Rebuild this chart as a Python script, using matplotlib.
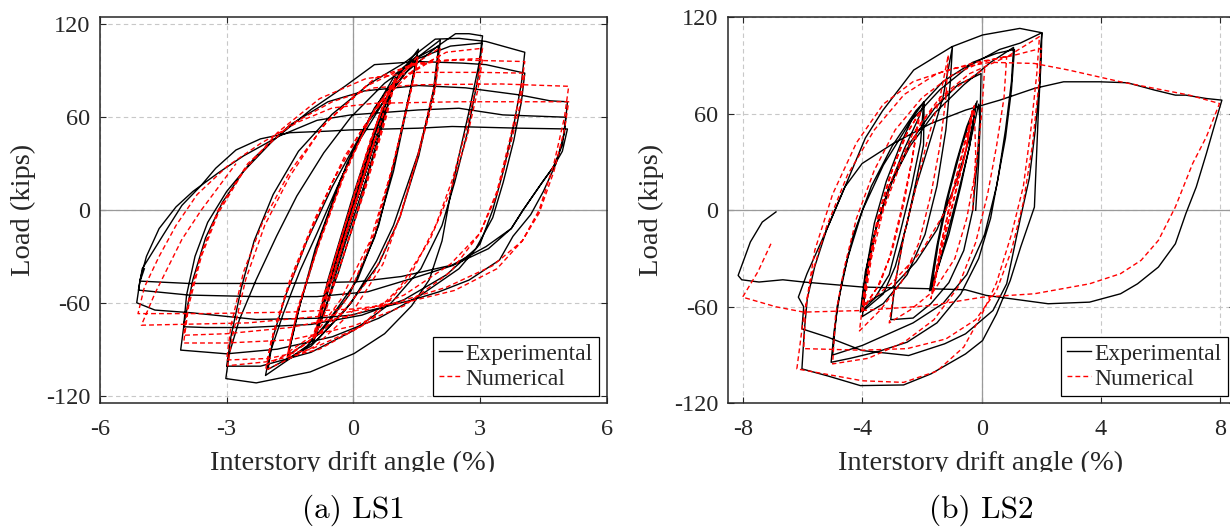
import numpy as np
import matplotlib
matplotlib.use("Agg")
import matplotlib.pyplot as plt
from matplotlib.patches import Rectangle

plt.rcParams['font.family'] = ['Liberation Serif', 'DejaVu Serif']
plt.rcParams['axes.unicode_minus'] = False

# ---------------- data (drift %, load kips) ----------------
ls1_exp = [
    (0, 0), (0.38, 32), (-0.38, -33), (0.38, 32), (-0.38, -33), (0.5, 44), (-0.5, -45), (0.5, 44), (-0.5, -45),
    (0.75, 65), (-0.75, -66), (0.75, 65), (-0.75, -66),
    (-0.45, -35), (0.05, 8), (0.55, 52), (1.0, 86), (0.75, 62), (0.3, 20), (-0.2, -22), (-0.6, -58), (-0.95, -86),
    (-0.65, -55), (-0.15, -8), (0.4, 42), (1.0, 85), (0.7, 56), (0.2, 8), (-0.35, -40), (-0.94, -84),
    (-0.6, -45), (0.0, 10), (0.6, 60), (1.1, 88), (1.54, 104), (1.35, 78), (1.0, 35), (0.6, -10), (0.1, -45),
    (-0.6, -72), (-1.1, -88), (-1.57, -97), (-1.35, -70), (-0.9, -25), (-0.3, 20), (0.4, 60), (1.0, 88),
    (1.52, 100), (1.3, 70), (0.95, 25), (0.5, -18), (-0.1, -55), (-0.8, -80), (-1.55, -94),
    (-1.25, -60), (-0.75, -15), (-0.15, 30), (0.5, 66), (1.2, 92), (2.06, 110), (1.94, 80), (1.54, 37), (1.2, 10),
    (0.95, -10), (0.55, -33), (-0.05, -60), (-0.86, -84), (-2.08, -107), (-1.98, -93), (-1.66, -67), (-1.26, -39),
    (-0.86, -15), (-0.38, 15), (0.1, 43), (0.74, 71), (1.54, 99), (2.02, 106), (1.9, 78), (1.55, 35), (1.1, -5),
    (0.6, -35), (-0.2, -65), (-1.0, -88), (-2.02, -103),
    (-1.9, -82), (-1.6, -55), (-1.1, -20), (-0.5, 15), (0.3, 55), (1.2, 88), (2.0, 106), (2.42, 114), (2.74, 114),
    (3.06, 112.6), (2.98, 95), (2.75, 65), (2.5, 35), (2.3, 10), (2.1, -20), (1.8, -45), (1.38, -62), (0.74, -80),
    (0.02, -92.8), (-1.02, -104.7), (-2.3, -111.8), (-3.02, -109),
    (-2.94, -93), (-2.7, -71), (-2.3, -45), (-1.82, -17), (-1.34, 9), (-0.7, 37), (-0.06, 60), (0.74, 82),
    (1.54, 98), (2.3, 106), (3.05, 108), (2.95, 85), (2.7, 50), (2.4, 18), (2.1, -10), (1.6, -38), (0.9, -60),
    (0.0, -78), (-1.0, -92), (-2.2, -101), (-3.0, -101),
    (-2.9, -82), (-2.65, -50), (-2.35, -20), (-1.9, 10), (-1.3, 38), (-0.5, 62), (0.4, 82), (1.2, 95),
    (1.94, 110.5), (2.5, 111), (3.14, 109), (4.06, 102), (3.98, 82), (3.8, 55), (3.55, 25), (3.3, 0),
    (3.0, -22), (2.5, -38), (1.6, -55), (0.6, -70), (-0.5, -82), (-1.8, -90), (-3.0, -93), (-4.09, -90.6),
    (-4.0, -72), (-3.8, -45), (-3.5, -18), (-3.1, 5), (-2.6, 25), (-1.9, 45), (-1.0, 65), (-0.2, 80), (0.5, 94),
    (1.54, 96), (2.58, 95), (3.14, 94), (4.06, 88.5), (3.98, 70), (3.8, 45), (3.55, 18), (3.3, -5), (2.9, -25),
    (2.2, -42), (1.2, -58), (0.2, -68), (-1.0, -74), (-2.5, -76), (-3.5, -76), (-4.02, -75.5),
    (-3.95, -55), (-3.75, -30), (-3.45, -8), (-3.0, 12), (-2.3, 35), (-1.5, 55), (-0.6, 70), (0.26, 77),
    (1.54, 80.5), (2.66, 79), (3.94, 74.4), (4.66, 70.6), (5.07, 70), (5.0, 50), (4.8, 30), (4.5, 12), (4.2, -3),
    (3.78, -17), (3.46, -32.4), (2.74, -45.3), (2.02, -53), (1.38, -58.3), (0.74, -62.6), (-0.06, -68),
    (-0.86, -70), (-2.3, -70.8), (-3.82, -66.5), (-4.7, -64.7), (-5.13, -60),
    (-5.05, -45), (-4.9, -30), (-4.6, -12), (-4.2, 2), (-3.8, 12), (-3.2, 24), (-2.6, 35), (-1.74, 48),
    (-0.86, 58), (-0.06, 61.5), (1.54, 64.7), (2.5, 65.8), (3.54, 61.5), (5.03, 60), (4.95, 42), (4.74, 28),
    (4.5, 19), (4.02, 0), (3.74, -12), (3.2, -25), (2.34, -36), (1.54, -43), (0.34, -52.9), (-0.86, -56),
    (-2.3, -56), (-3.9, -55), (-5.09, -51.8),
    (-5.0, -38), (-4.5, -16), (-4.06, 3), (-3.6, 16), (-3.26, 27), (-2.78, 38.8), (-2.2, 46), (-1.5, 50),
    (-0.6, 51), (-0.06, 51.8), (1.54, 52.9), (2.34, 54), (3.94, 52.9), (5.07, 52.4), (4.95, 38), (4.74, 28),
    (4.4, 15), (4.02, 0), (3.74, -12), (3.14, -23.7), (2.34, -35.6), (1.14, -43), (0.1, -46.4), (-1.66, -47.5),
    (-3.9, -47.5), (-5.05, -46), (-4.95, -38),
]

ls1_num = [
    (0, 0), (0.38, 33), (-0.38, -33), (0.38, 33), (-0.38, -33), (0.5, 45), (-0.5, -45), (0.5, 45), (-0.5, -45),
    (0.75, 66), (-0.75, -66), (0.75, 66), (-0.75, -66),
    (-0.4, -28), (0.1, 15), (0.6, 60), (1.0, 85), (0.8, 65), (0.3, 18), (-0.3, -35), (-0.65, -65), (-0.95, -84),
    (-0.75, -62), (-0.25, -15), (0.3, 35), (0.7, 68), (1.0, 84), (0.8, 62), (0.3, 15), (-0.3, -35), (-0.95, -82),
    (-0.7, -55), (-0.2, -10), (0.4, 45), (0.9, 80), (1.54, 100), (1.35, 75), (0.95, 30), (0.5, -15), (-0.1, -55),
    (-0.7, -78), (-1.57, -95), (-1.35, -68), (-0.85, -25), (-0.25, 20), (0.4, 60), (1.0, 85), (1.52, 97),
    (1.3, 70), (0.9, 25), (0.4, -20), (-0.3, -58), (-0.9, -80), (-1.55, -92),
    (-1.3, -62), (-0.8, -20), (-0.2, 25), (0.5, 65), (1.2, 90), (2.06, 105), (1.9, 78), (1.55, 38), (1.15, 0),
    (0.7, -35), (0.0, -65), (-0.9, -88), (-2.08, -103.6), (-1.95, -85), (-1.6, -55), (-1.1, -20), (-0.5, 18),
    (0.2, 52), (1.0, 82), (2.05, 100), (1.9, 72), (1.5, 32), (1.1, -5), (0.5, -40), (-0.3, -68), (-1.2, -88),
    (-2.05, -100),
    (-1.9, -80), (-1.5, -45), (-0.9, -5), (-0.2, 35), (0.6, 68), (1.4, 90), (2.2, 102), (3.06, 104.6),
    (2.95, 85), (2.7, 55), (2.35, 20), (1.95, -10), (1.3, -45), (0.4, -72), (-0.8, -90), (-2.0, -98),
    (-2.98, -100.7), (-2.85, -80), (-2.55, -45), (-2.1, -10), (-1.5, 22), (-0.7, 55), (0.3, 80), (1.3, 93),
    (2.2, 97), (3.06, 98), (2.95, 78), (2.7, 48), (2.3, 12), (1.8, -20), (1.1, -50), (0.2, -75), (-1.0, -90),
    (-2.0, -96), (-3.0, -97),
    (-2.9, -75), (-2.6, -40), (-2.15, -8), (-1.5, 25), (-0.6, 58), (0.5, 85), (1.5, 95), (2.5, 97), (4.06, 96),
    (3.95, 75), (3.7, 45), (3.4, 12), (3.0, -15), (2.3, -40), (1.2, -62), (0.0, -75), (-1.5, -84), (-3.0, -86),
    (-4.02, -86), (-3.9, -62), (-3.6, -30), (-3.2, -2), (-2.6, 25), (-1.8, 50), (-0.8, 72), (0.3, 85),
    (1.5, 89), (3.0, 89), (4.06, 88.5), (3.95, 68), (3.7, 40), (3.4, 10), (3.0, -15), (2.3, -35), (1.2, -55),
    (0.0, -68), (-1.5, -76), (-3.0, -80), (-4.02, -81),
    (-3.9, -58), (-3.6, -28), (-3.2, 0), (-2.5, 30), (-1.5, 55), (-0.5, 70), (0.5, 79), (1.54, 81), (3.5, 81.5),
    (5.1, 80), (5.0, 60), (4.75, 30), (4.4, 0), (4.0, -20), (3.4, -38), (2.4, -52), (1.2, -60), (0.0, -64),
    (-1.5, -66), (-3.5, -67), (-5.1, -67), (-4.95, -50), (-4.6, -30), (-4.2, -10), (-3.7, 10), (-3.0, 28),
    (-2.2, 43), (-1.3, 57), (-0.5, 66), (0.5, 69), (2.5, 70), (5.1, 70), (5.0, 52), (4.75, 25), (4.4, -2),
    (4.0, -20), (3.3, -36), (2.2, -50), (1.0, -60), (-0.5, -68), (-2.5, -73), (-5.02, -74.5), (-4.7, -54),
    (-4.06, -19), (-3.6, 0), (-2.78, 30),
]

ls2_exp = [
    (-0.2, 0), (-0.1, 30), (-0.05, 55), (-0.1, 66), (-0.35, 45), (-0.7, 15), (-1.1, -15), (-1.45, -35),
    (-1.75, -50), (-1.5, -22), (-1.2, 5), (-0.85, 30), (-0.5, 52), (-0.2, 66), (-0.4, 40), (-0.8, 10),
    (-1.2, -18), (-1.5, -38), (-1.7, -50), (-1.45, -20), (-1.1, 10), (-0.7, 38), (-0.35, 58), (-0.15, 68),
    (-0.4, 45), (-0.9, 15), (-1.5, -12), (-2.2, -32), (-3.0, -48), (-3.9, -58), (-4.0, -55),
    (-3.85, -35), (-3.6, -8), (-3.2, 18), (-2.7, 42), (-2.3, 58), (-1.93, 67.5), (-1.95, 40.5), (-2.2, 18),
    (-2.5, -8), (-2.9, -35), (-3.3, -52), (-4.0, -63), (-3.85, -40), (-3.55, -12), (-3.15, 12), (-2.6, 38),
    (-2.1, 58), (-1.95, 66), (-2.05, 42), (-2.35, 15), (-2.75, -15), (-3.1, -40), (-3.6, -55), (-4.07, -63.3),
    (-3.9, -38), (-3.5, -8), (-3.0, 18), (-2.4, 42), (-1.6, 63), (-0.8, 78), (-0.02, 85), (-0.05, 60),
    (-0.15, 30), (-0.3, 0), (-0.6, -25), (-1.1, -45), (-1.7, -58), (-2.3, -67), (-3.05, -68),
    (-2.9, -45), (-2.6, -15), (-2.2, 15), (-1.7, 45), (-1.3, 70), (-0.98, 101.7), (-1.05, 80), (-1.2, 50),
    (-1.5, 15), (-1.9, -15), (-2.5, -40), (-3.3, -58), (-4.0, -66),
    (-3.9, -45), (-3.6, -15), (-3.1, 15), (-2.4, 40), (-1.6, 60), (-0.6, 78), (0.3, 92), (1.07, 101.3),
    (1.0, 80), (0.8, 50), (0.55, 20), (0.3, -5), (-0.1, -30), (-0.7, -52), (-1.5, -70), (-2.5, -82),
    (-3.5, -88), (-4.4, -92), (-5.05, -94.5), (-4.95, -75), (-4.7, -45), (-4.3, -15), (-3.7, 15), (-3.0, 40),
    (-2.2, 62), (-1.3, 80), (-0.3, 92), (0.5, 97.6), (1.1, 100),
    (1.0, 75), (0.8, 45), (0.5, 15), (0.1, -15), (-0.5, -40), (-1.3, -58), (-2.3, -70), (-4.0, -84),
    (-5.0, -90), (-4.85, -60), (-4.5, -30), (-4.0, 0), (-3.3, 28), (-2.4, 55), (-1.4, 75), (-0.4, 90),
    (0.6, 100), (1.3, 104), (2.02, 110.4), (2.0, 95), (1.9, 60), (1.77, 2), (1.31, -22.8), (0.96, -43.6),
    (0.5, -64.4), (0.03, -81), (-0.54, -89.3), (-1.7, -101.7), (-2.62, -108.6), (-4.07, -109), (-5.16, -103),
    (-6.03, -98.6), (-5.95, -75), (-5.85, -55), (-5.6, -35), (-5.2, -12), (-4.6, 14), (-3.9, 45), (-3.32, 62),
    (-2.28, 87.2), (-1.0, 101.7), (0.03, 109), (1.28, 113.1), (2.02, 110.4), (1.98, 100.7), (1.95, 80),
    (1.8, 50), (1.6, 20), (1.3, -5), (0.84, -45.7), (0.38, -62.3), (-0.54, -76.8), (-1.24, -83),
    (-2.45, -90.3), (-4.01, -87.2), (-5.16, -78.9), (-6.03, -73.7), (-5.97, -60), (-6.15, -54),
    (-5.86, -39.4), (-5.16, -10.4), (-4.59, 14.5), (-4.01, 29.1), (-2.97, 41.5), (-1.7, 54), (-0.54, 62.3),
    (0.61, 68.5), (1.77, 75.8), (2.75, 79.9), (3.96, 79.9), (4.89, 79.3), (5.81, 74.7), (6.5, 71.6),
    (6.85, 71.6), (7.54, 69.5), (8.06, 68.5), (7.83, 54), (7.54, 35.3), (7.2, 14.5), (6.85, -2.1),
    (6.5, -20.8), (5.93, -35.3), (5.23, -45.7), (4.66, -51.9), (3.62, -57.1), (2.23, -58.1), (0.15, -52.9),
    (-0.54, -49.4), (-1.7, -48.8), (-4.01, -47.7), (-5.97, -44.6), (-6.67, -43.2), (-7.47, -44.6),
    (-8.05, -43.2), (-8.17, -40.5), (-7.76, -19.7), (-7.36, -7.3), (-6.9, -1),
]

ls2_num = [
    (-0.3, 0), (-0.2, 35), (-0.25, 65), (-0.5, 40), (-0.9, 10), (-1.3, -20), (-1.7, -55), (-1.4, -25),
    (-1.0, 10), (-0.6, 40), (-0.3, 63), (-0.55, 35), (-0.95, 5), (-1.35, -25), (-1.65, -52), (-1.35, -20),
    (-0.95, 12), (-0.55, 42), (-0.3, 62), (-0.6, 30), (-1.2, 0), (-2.0, -25), (-3.0, -45), (-4.0, -60),
    (-3.8, -35), (-3.5, -5), (-3.1, 20), (-2.6, 45), (-2.05, 62), (-2.3, 35), (-2.6, 5), (-3.0, -25),
    (-3.4, -45), (-4.0, -62), (-3.75, -30), (-3.4, 0), (-3.0, 25), (-2.5, 48), (-2.1, 60), (-2.35, 30),
    (-2.7, 0), (-3.1, -30), (-3.5, -48), (-3.95, -60),
    (-3.7, -30), (-3.3, 0), (-2.7, 30), (-2.0, 55), (-1.2, 72), (-0.4, 82), (0.1, 88), (0.0, 60), (-0.2, 25),
    (-0.5, -5), (-0.9, -30), (-1.6, -50), (-2.4, -62), (-3.1, -70), (-2.9, -45), (-2.6, -15), (-2.2, 15),
    (-1.8, 45), (-1.4, 70), (-1.12, 96.5), (-1.2, 70), (-1.4, 40), (-1.7, 10), (-2.1, -20), (-2.7, -45),
    (-3.4, -62), (-4.1, -75),
    (-3.9, -45), (-3.5, -10), (-3.0, 20), (-2.3, 48), (-1.4, 70), (-0.4, 85), (0.84, 95.5), (0.75, 70),
    (0.5, 40), (0.2, 10), (-0.2, -20), (-0.8, -48), (-1.6, -68), (-2.6, -82), (-3.8, -92), (-5.0, -95.5),
    (-4.9, -65), (-4.6, -35), (-4.2, -5), (-3.6, 25), (-2.9, 50), (-2.0, 70), (-1.0, 84), (0.0, 92),
    (0.9, 96), (1.94, 108), (1.85, 85), (1.65, 50), (1.4, 15), (1.0, -15), (0.5, -45), (0.0, -65),
    (-0.6, -85), (-1.5, -100), (-2.62, -107), (-4.0, -106), (-5.2, -102), (-6.2, -98.6), (-6.0, -70),
    (-5.7, -40), (-5.2, -10), (-4.5, 22), (-3.6, 50), (-2.6, 72), (-1.5, 85), (-0.2, 92), (1.0, 96),
    (2.0, 100.7), (1.9, 75), (1.7, 40), (1.4, 5), (1.0, -25), (0.5, -50), (-0.2, -68), (-1.2, -80),
    (-2.5, -86), (-4.0, -87), (-5.97, -86), (-5.9, -60), (-5.6, -25), (-5.0, 10), (-4.2, 42), (-3.3, 66),
    (-2.3, 80), (-1.0, 88), (0.3, 92), (1.77, 91.3), (2.92, 87.2), (4.66, 79.9), (6.39, 73.7), (6.97, 71.6),
    (7.98, 66.4), (7.54, 45.7), (7.08, 29.1), (6.5, 2.1), (5.93, -18.7), (5.35, -31.1), (4.66, -39.4),
    (3.62, -45.7), (1.77, -51.9), (0.03, -54), (-1.7, -59.2), (-4.01, -62.3), (-5.97, -63.3), (-6.9, -60),
    (-8.02, -54), (-7.5, -38), (-7.07, -20.8),
]

ls1_xticks = [-6, -3, 0, 3, 6]
ls2_xticks = [-8, -4, 0, 4, 8]
yticks = [-120, -60, 0, 60, 120]

# ---------------- figure ----------------
W, H = 1230, 527
fig = plt.figure(figsize=(W / 100, H / 100), dpi=100)

def px_rect(l, t, r, b):
    return [l / W, 1 - b / H, (r - l) / W, (b - t) / H]

ax1 = fig.add_axes(px_rect(100, 16.7, 606.7, 403.3))
ax2 = fig.add_axes(px_rect(728.3, 17.3, 1235, 403.3))

tick_fs = 17.5
lab_fs = 20.5
INK = '#262626'

def style(ax, data_exp, data_num, xlim, ylim, xticks, leg_right):
    ax.set_xlim(*xlim)
    ax.set_ylim(*ylim)
    ax.set_xticks(xticks)
    ax.set_yticks(yticks)
    ax.grid(True, color='#c8c8c8', linestyle=(0, (4, 3)), linewidth=0.8)
    ax.set_axisbelow(True)
    ax.axhline(0, color='#9a9a9a', lw=0.9, zorder=1)
    ax.axvline(0, color='#9a9a9a', lw=0.9, zorder=1)
    ex = np.array(data_exp, dtype=float)
    nu = np.array(data_num, dtype=float)
    ax.plot(ex[:, 0], ex[:, 1], color='black', lw=1.0, label='Experimental', zorder=3)
    ax.plot(nu[:, 0], nu[:, 1], color='red', lw=1.0, linestyle=(0, (3.5, 2.2)), label='Numerical', zorder=4)
    for s in ax.spines.values():
        s.set_color(INK)
        s.set_linewidth(1.1)
    ax.tick_params(direction='in', length=4, width=0.8, color=INK, top=True, right=True,
                   labelsize=tick_fs, labelcolor=INK)
    ax.tick_params(axis='x', pad=11)
    ax.tick_params(axis='y', pad=7)
    ax.set_ylabel('Load (kips)', fontsize=lab_fs, color=INK, labelpad=7)
    leg = ax.legend(loc='lower right', bbox_to_anchor=(leg_right, 0.02),
                    fontsize=17, frameon=True, fancybox=False, framealpha=1, edgecolor='black',
                    handlelength=1.0, handletextpad=0.15, borderpad=0.25, labelspacing=0.15, borderaxespad=0)
    leg.get_frame().set_linewidth(0.9)
    for t in leg.get_texts():
        t.set_color(INK)
    return ax

style(ax1, ls1_exp, ls1_num, (-6, 6), (-125, 125), ls1_xticks, (599 - 100) / 506.7)
style(ax2, ls2_exp, ls2_num, (-8.5, 8.5), (-120, 120), ls2_xticks, (1227.5 - 728.3) / 506.7)

# x labels (bottom cropped as in the source picture)
for cx in (353, 981):
    fig.text(cx / W, 1 - 470 / H, 'Interstory drift angle (%)', fontsize=lab_fs, color=INK,
             ha='center', va='baseline')
fig.add_artist(Rectangle((0, (H - 495) / H), 1, (495 - 471.5) / H, transform=fig.transFigure,
                         color='white', zorder=10))

fig.text(353 / W, 1 - 518 / H, '(a) LS1', family='cmr10', fontsize=22.5, ha='center', va='baseline', zorder=11)
fig.text(981 / W, 1 - 518 / H, '(b) LS2', family='cmr10', fontsize=22.5, ha='center', va='baseline', zorder=11)

fig.savefig('out.png', dpi=100)
